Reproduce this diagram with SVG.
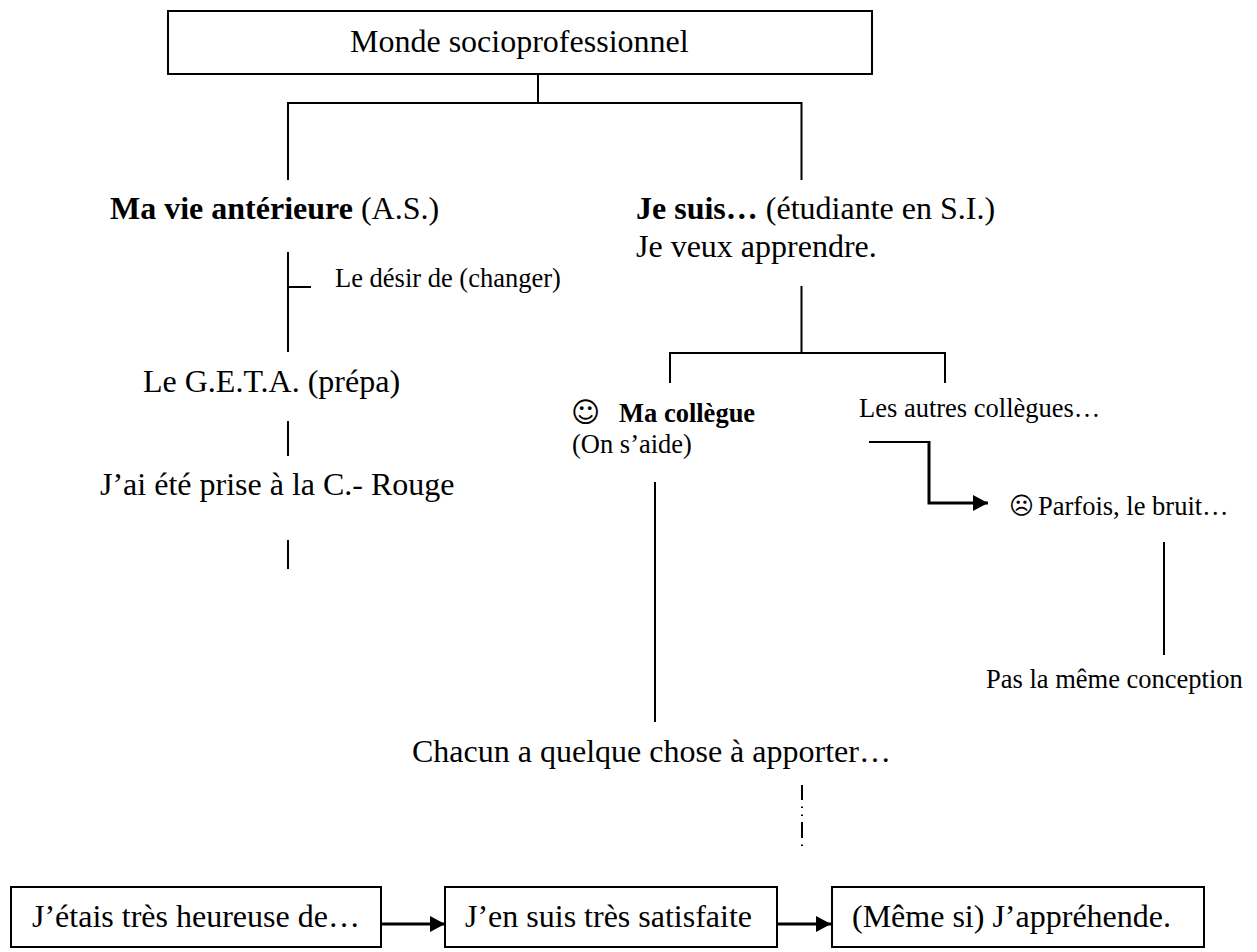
<svg xmlns="http://www.w3.org/2000/svg" width="1257" height="952" viewBox="0 0 1257 952">
<style>
text{font-family:"Liberation Serif","Times New Roman",serif;fill:#000}
.l{font-size:32px}.s{font-size:26.5px}
.e{font-family:"DejaVu Sans",sans-serif}
.b{font-weight:bold}
.box{fill:#fff;stroke:#000;stroke-width:2}
.c{fill:none;stroke:#000;stroke-width:2}
.t{fill:none;stroke:#000;stroke-width:3}
</style>
<defs><marker id="a" markerUnits="userSpaceOnUse" markerWidth="15" markerHeight="16" refX="15" refY="8" orient="auto"><path d="M0 0L15 8L0 16Z" fill="#000"/></marker></defs>
<g id="connectors">
<path class="c" d="M538 74V103M288 180V103H801.500V180"/>
<path class="c" d="M288 252V352M288 287H311M288 421V456M288 540V569"/>
<path class="c" d="M801.500 286V353M670 383V353H945V383"/>
<path class="c" d="M655 482V722M1164 542V655"/>
<path class="c" d="M869 442H929"/>
<path class="t" d="M929 441V503H988" marker-end="url(#a)"/>
<path class="c" d="M802 785V800M802 822V838"/>
<path class="c" d="M802 806.500V808M802 814.500V816M802 844.500V846" stroke-width="1"/>
<path class="t" d="M382 924H445" marker-end="url(#a)"/>
<path class="t" d="M778 924H831" marker-end="url(#a)"/>
</g>
<g id="n1"><rect class="box" x="168" y="11" width="704" height="63"/><text class="l" x="350" y="52">Monde socioprofessionnel</text></g>
<g id="n2"><text class="l" x="110" y="219"><tspan class="b">Ma vie antérieure</tspan> (A.S.)</text></g>
<g id="n3"><text class="l" x="636" y="219"><tspan class="b">Je suis…</tspan> (étudiante en S.I.)</text><text class="l" x="636" y="257">Je veux apprendre.</text></g>
<g id="n4"><text class="s" x="335" y="287">Le désir de (changer)</text></g>
<g id="n5"><text class="l" x="143" y="392">Le G.E.T.A. (prépa)</text></g>
<g id="n6"><text class="l" x="100" y="495">J’ai été prise à la C.- Rouge</text></g>
<g id="n7"><text class="e" font-size="28" x="571" y="422">☺</text><text class="s b" x="619" y="422">Ma collègue</text><text class="s" x="572" y="453">(On s’aide)</text></g>
<g id="n8"><text class="s" x="859" y="417">Les autres collègues…</text></g>
<g id="n9"><text class="e" font-size="24" x="1009" y="514">☹</text><text class="s" x="1038" y="515">Parfois, le bruit…</text></g>
<g id="n10"><text class="s" x="986" y="688">Pas la même conception</text></g>
<g id="n11"><text class="l" x="412" y="762">Chacun a quelque chose à apporter…</text></g>
<g id="n12"><rect class="box" x="11" y="887" width="370" height="60"/><text class="l" x="32" y="927">J’étais très heureuse de…</text></g>
<g id="n13"><rect class="box" x="445" y="887" width="332" height="60"/><text class="l" x="465" y="927">J’en suis très satisfaite</text></g>
<g id="n14"><rect class="box" x="832" y="887" width="372" height="60"/><text class="l" x="852" y="927">(Même si) J’appréhende.</text></g>
</svg>
